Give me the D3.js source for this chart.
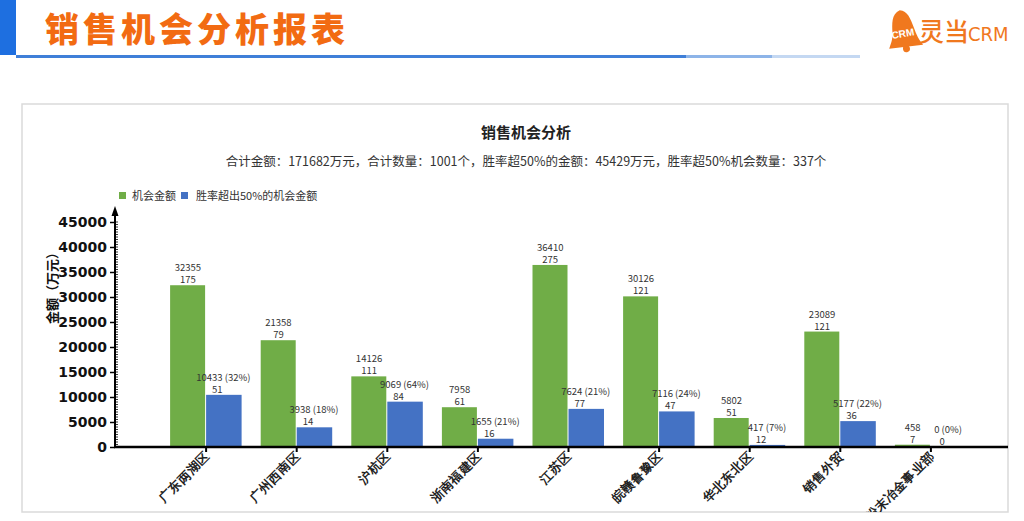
<!DOCTYPE html>
<html><head><meta charset="utf-8">
<script src="https://cdn.jsdelivr.net/npm/d3@7/dist/d3.min.js"></script>
<style>
html,body{margin:0;padding:0;background:#fff;}
svg{display:block;font-family:"Noto Sans CJK SC","Noto Sans",sans-serif;}
</style></head>
<body>
<svg id="c" width="1024" height="521"></svg>
<script>
const categories = ["广东两湖区","广州西南区","沪杭区","浙南福建区","江苏区","皖赣鲁豫区","华北东北区","销售外贸","粉末冶金事业部"];
const amountValues = [32355, 21358, 14126, 7958, 36410, 30126, 5802, 23089, 458];
const amountCounts = [175, 79, 111, 61, 275, 121, 51, 121, 7];
const winValues = [10433, 3938, 9069, 1655, 7624, 7116, 417, 5177, 0];
const winPercents = ["32%","18%","64%","21%","21%","24%","7%","22%","0%"];
const winCounts = [51, 14, 84, 16, 77, 47, 12, 36, 0];
const yTicks = [0,5000,10000,15000,20000,25000,30000,35000,40000,45000];
const seriesNames = ["机会金额","胜率超出50%的机会金额"];
const colors = ["#70AD47","#4472C4"];

const svg = d3.select("#c");

// page header
svg.append("rect").attr("x",0).attr("y",0).attr("width",16).attr("height",55).attr("fill","#1E6FE0");
svg.append("rect").attr("x",16).attr("y",55).attr("width",670).attr("height",3).attr("fill","#3F7FD8");
svg.append("rect").attr("x",686).attr("y",55).attr("width",86).attr("height",3).attr("fill","#8DB4E8");
svg.append("rect").attr("x",772).attr("y",55).attr("width",88).attr("height",3).attr("fill","#C4D8F2");
svg.append("text").attr("x",45).attr("y",42).attr("font-size",34).attr("font-weight",900)
  .attr("letter-spacing",4).attr("fill","#F26B12").text("销售机会分析报表");

// logo
const logo = svg.append("g").attr("transform","translate(888,9) rotate(-10,15,20)");
logo.append("path").attr("d","M15,1 C6,3 5,14 4,22 C3,29 0,33 -2,37 L32,39 C29,34 27,28 26,21 C24,11 23,3 15,1 Z")
  .attr("fill","#F0781E");
logo.append("circle").attr("cx",15).attr("cy",40).attr("r",3.5).attr("fill","#F0781E");
logo.append("text").attr("x",14).attr("y",28).attr("font-size",10).attr("font-weight",700).attr("fill","#fff")
  .attr("text-anchor","middle").attr("font-family","Liberation Sans Narrow, Liberation Sans, sans-serif")
  .text("CRM");
svg.append("text").attr("x",919).attr("y",41).attr("font-size",25).attr("fill","#F0781E").attr("font-weight",500).text("灵当");
svg.append("text").attr("x",968).attr("y",41).attr("font-size",20).attr("fill","#F0781E")
  .attr("font-family","Liberation Sans Narrow, DejaVu Sans Condensed, sans-serif").text("CRM");

// panel
svg.append("defs").append("clipPath").attr("id","pc").append("rect")
  .attr("x",22).attr("y",104).attr("width",986).attr("height",408);
svg.append("rect").attr("x",22).attr("y",104).attr("width",986).attr("height",408)
  .attr("fill","#fff").attr("stroke","#DADADA").attr("stroke-width",1.5);

const g = svg.append("g").attr("clip-path","url(#pc)");

g.append("text").attr("x",526).attr("y",138).attr("text-anchor","middle").attr("font-size",15)
  .attr("font-weight",700).attr("fill","#222").text("销售机会分析");
g.append("text").attr("x",526).attr("y",166).attr("text-anchor","middle").attr("font-size",12.5)
  .attr("fill","#333").text("合计金额：171682万元，合计数量：1001个，胜率超50%的金额：45429万元，胜率超50%机会数量：337个");

// legend
const leg = g.append("g");
[[119,132],[181,196]].forEach((p,i)=>{
  leg.append("rect").attr("x",p[0]).attr("y",192).attr("width",7).attr("height",7).attr("fill",colors[i]);
  leg.append("text").attr("x",p[1]).attr("y",200).attr("font-size",11).attr("fill","#333").text(seriesNames[i]);
});

// scales
const y = d3.scaleLinear().domain([0,45000]).range([447,222]);
const x = d3.scalePoint().domain(categories).range([115,1021]).padding(1);
const bw = 35.5;

// bars
categories.forEach((c,i)=>{
  const cx = x(c);
  g.append("rect").attr("x",cx-bw).attr("y",y(amountValues[i])).attr("width",bw-0.5)
    .attr("height",y(0)-y(amountValues[i])).attr("fill",colors[0]);
  g.append("rect").attr("x",cx+0.5).attr("y",y(winValues[i])).attr("width",bw)
    .attr("height",y(0)-y(winValues[i])).attr("fill",colors[1]);
  const gx = cx-bw/2, bx = cx+bw/2;
  g.append("text").attr("x",gx).attr("y",y(amountValues[i])-14).attr("text-anchor","middle")
    .attr("font-size",9.5).attr("fill","#333").text(amountValues[i]);
  g.append("text").attr("x",gx).attr("y",y(amountValues[i])-2).attr("text-anchor","middle")
    .attr("font-size",9.5).attr("fill","#333").text(amountCounts[i]);
  g.append("text").attr("x",bx).attr("y",y(winValues[i])-14).attr("text-anchor","middle")
    .attr("font-size",9.5).attr("fill","#333").text(winValues[i]+" ("+winPercents[i]+")");
  g.append("text").attr("x",bx-6).attr("y",y(winValues[i])-2).attr("text-anchor","middle")
    .attr("font-size",9.5).attr("fill","#333").text(winCounts[i]);
});

// y axis
const ya = g.append("g").attr("transform","translate(115,0)")
  .call(d3.axisLeft(y).tickValues(yTicks).tickSize(5).tickFormat(d3.format("d")));
ya.select(".domain").remove();
ya.selectAll("line").attr("stroke","#000").attr("stroke-width",1.5);
ya.selectAll("text").attr("font-size",14).attr("font-weight",700).attr("fill","#111")
  .attr("font-family","DejaVu Sans, sans-serif").attr("x",-8);
// minor ticks
g.selectAll(".minor").data(d3.range(0,45001,500)).join("line")
  .attr("x1",115).attr("x2",118).attr("y1",d=>y(d)).attr("y2",d=>y(d))
  .attr("stroke","#000").attr("stroke-width",0.8);
g.append("line").attr("x1",115).attr("x2",115).attr("y1",448).attr("y2",212).attr("stroke","#000").attr("stroke-width",2);
g.append("path").attr("d","M115,206 L111.5,216 L118.5,216 Z").attr("fill","#000");

g.append("text").attr("transform","translate(57,285) rotate(-90)").attr("text-anchor","middle")
  .attr("font-size",13).attr("font-weight",700).attr("fill","#111").text("金额（万元）");

// x axis
g.append("line").attr("x1",114).attr("x2",1010).attr("y1",447).attr("y2",447).attr("stroke","#000").attr("stroke-width",2.5);
const xa = g.append("g").attr("transform","translate(0,447)")
  .call(d3.axisBottom(x).tickSize(5).tickSizeOuter(0));
xa.select(".domain").remove();
xa.selectAll("line").attr("stroke","#000").attr("stroke-width",2);
xa.selectAll("text").attr("font-size",12.5).attr("font-weight",700).attr("fill","#222")
  .attr("text-anchor","end").attr("dy",0).attr("y",0)
  .attr("transform","translate(4,10) rotate(-45)");
</script>
</body></html>
